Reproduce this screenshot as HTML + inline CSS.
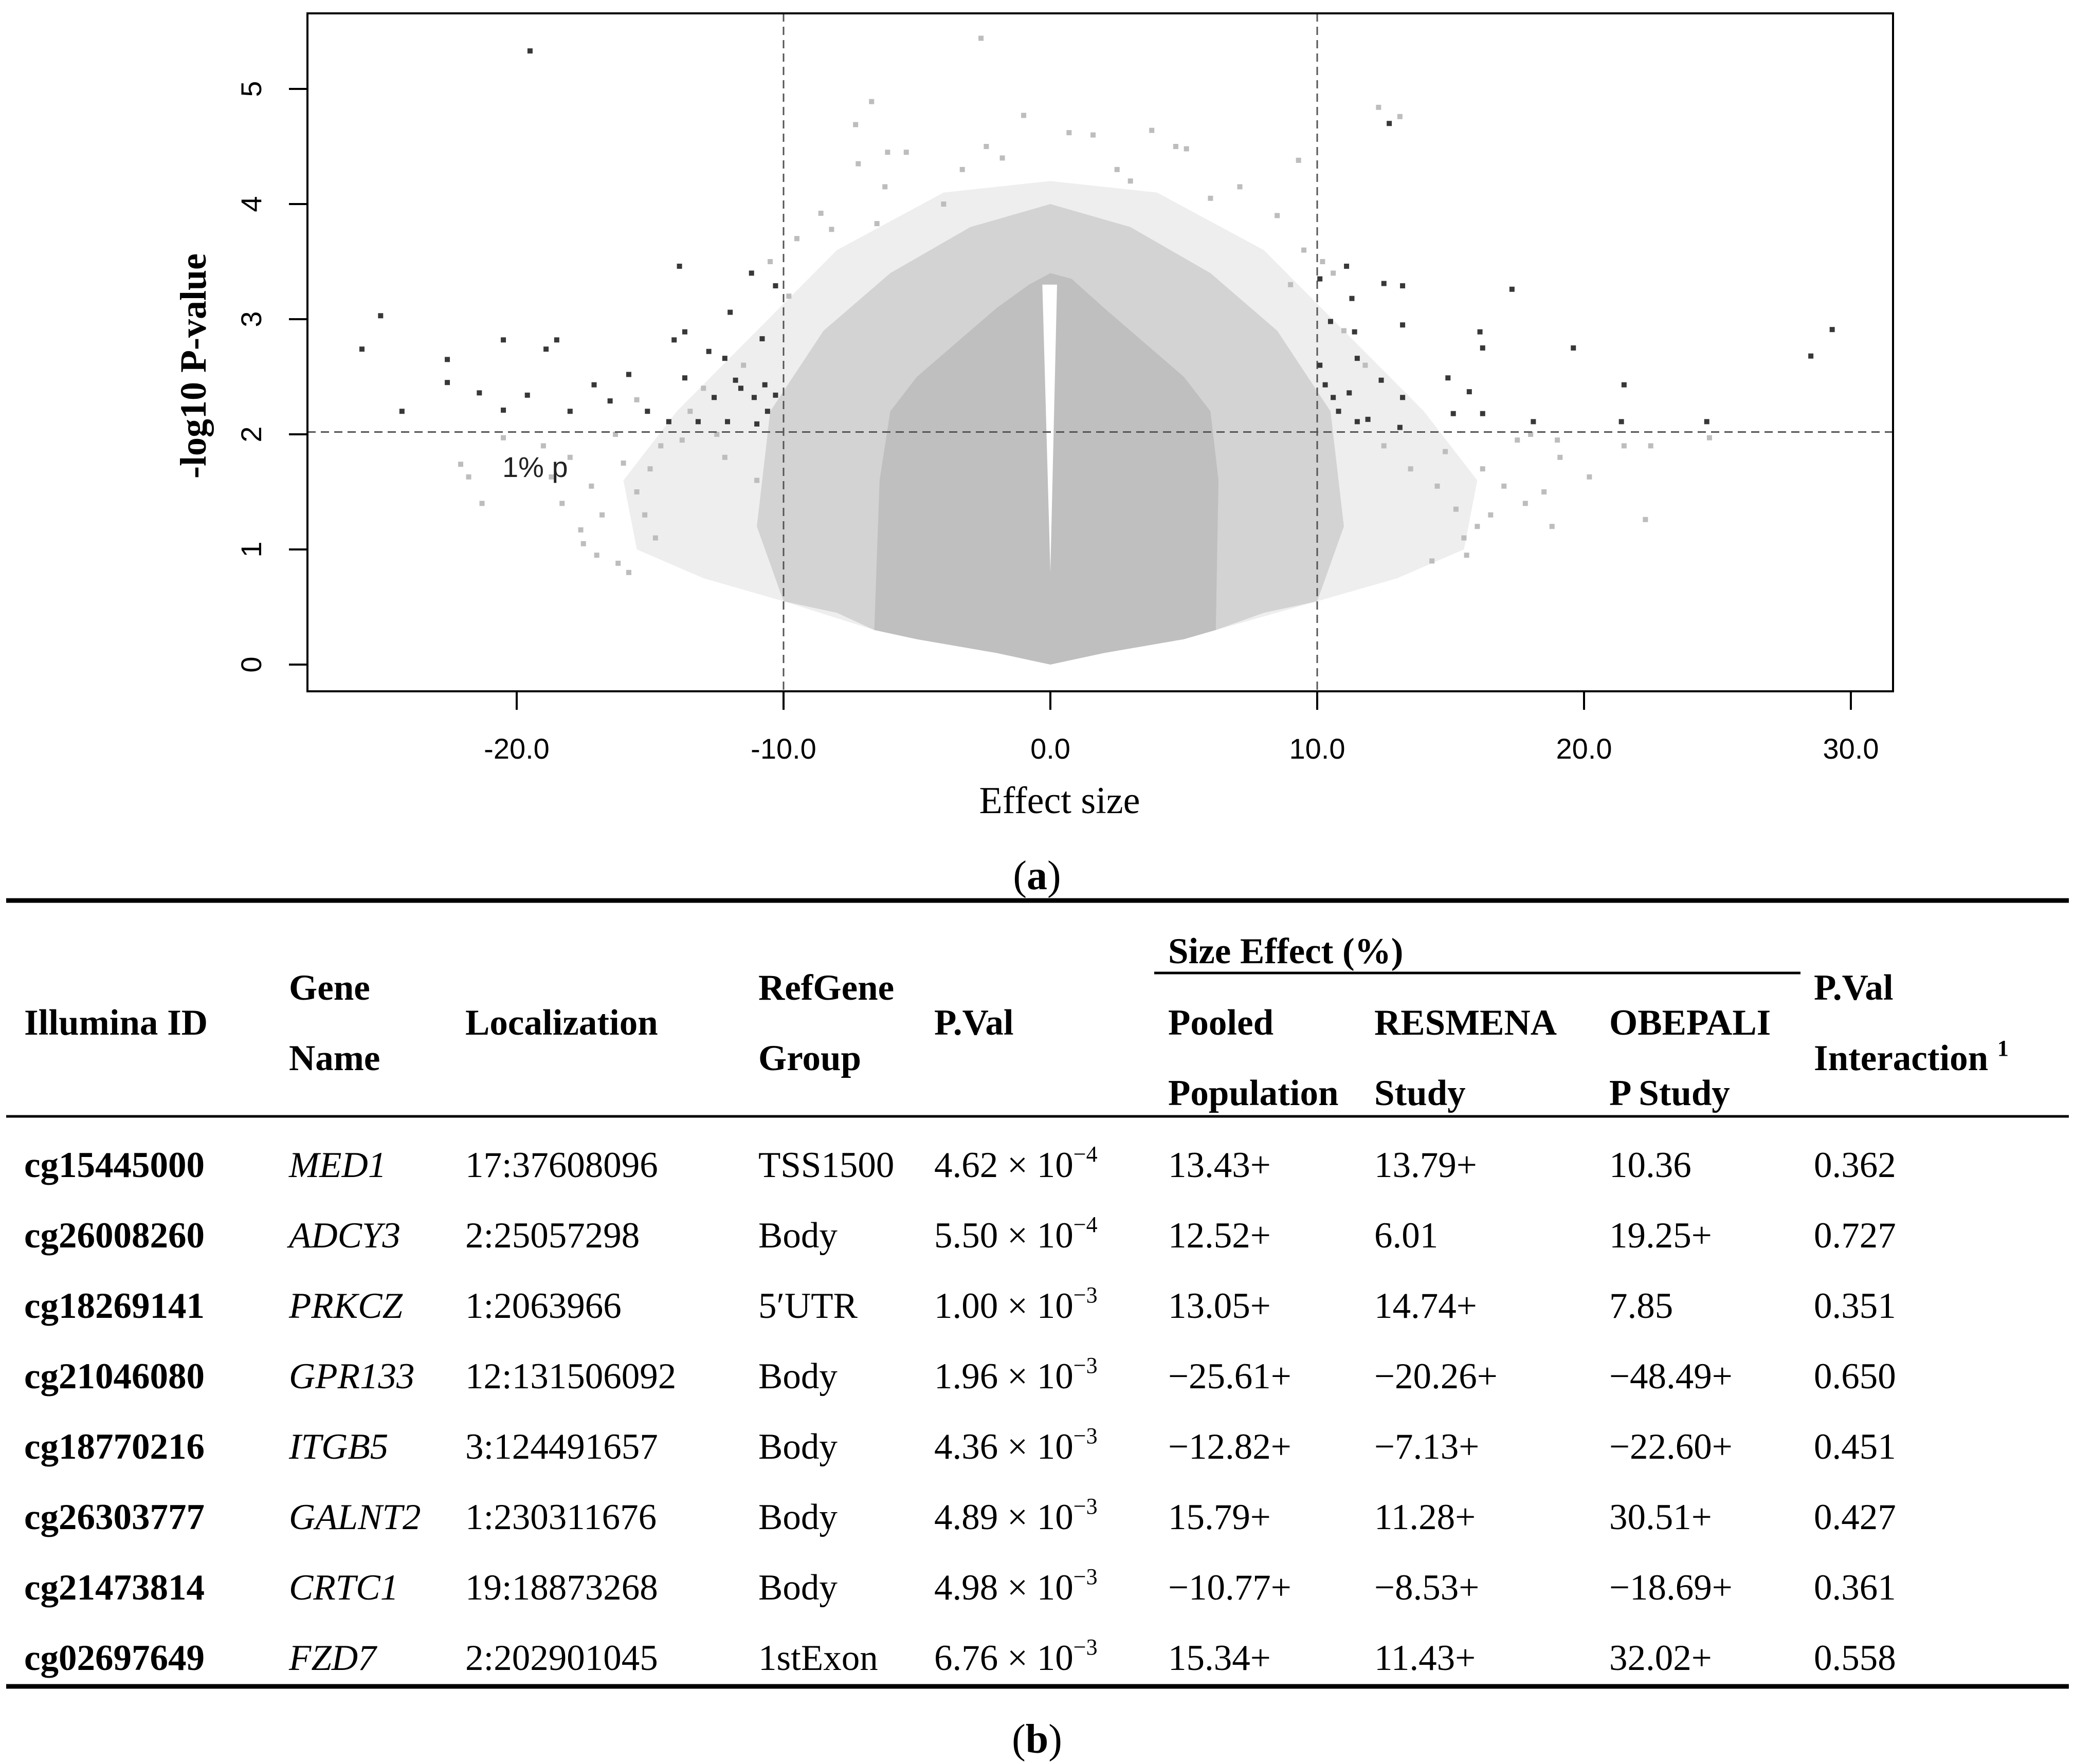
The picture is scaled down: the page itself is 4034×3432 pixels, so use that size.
<!DOCTYPE html>
<html><head><meta charset="utf-8"><style>
html,body{margin:0;padding:0;background:#fff;}
svg{display:block;}
</style></head><body>
<svg id="fig" width="4034" height="3432" viewBox="0 0 4034 3432" xmlns="http://www.w3.org/2000/svg">
<g id="plot"></g>
<g id="table" font-family="'Liberation Serif', serif" font-size="71"></g>
</svg>
<script>
// ---- chart data ----
const xTicks = [-20, -10, 0, 10, 20, 30];
const xTickLabels = ["-20.0", "-10.0", "0.0", "10.0", "20.0", "30.0"];
const yTicks = [0, 1, 2, 3, 4, 5];
const yTickLabels = ["0", "1", "2", "3", "4", "5"];
const threshY = 2.02;
const vLines = [-10, 10];
const coreX = [-6.6,-6.4,-6,-5,-3.5,-2,-0.8,0,0.8,2,3.5,5,6,6.3,6.2,5,2,0,-2,-5];
const coreY = [0.3,1.6,2.2,2.5,2.8,3.1,3.3,3.4,3.35,3.1,2.8,2.5,2.2,1.6,0.3,0.22,0.1,0,0.1,0.22];
const innerX = [-6.6,-8,-10,-11,-10.5,-8.5,-6,-3,0,3,6,8.5,10.5,11,10,8,6.2];
const innerY = [0.3,0.45,0.55,1.2,2.2,2.9,3.4,3.8,4.0,3.8,3.4,2.9,2.2,1.2,0.55,0.45,0.3];
const haloX = [-6.6,-10,-13,-15.5,-16,-14,-11,-8,-4,0,4,8,11,14,16,15.5,13,10,6.2];
const haloY = [0.3,0.55,0.75,1.0,1.6,2.2,2.9,3.6,4.1,4.2,4.1,3.6,2.9,2.2,1.6,1.0,0.75,0.55,0.3];
const gapX = [0,-0.3,0.25];
const gapY = [0.8,3.3,3.3];
const greyX = [-2.6,-6.7,-7.3,-1.0,0.7,1.6,3.8,4.7,5.1,-2.4,-6.1,-5.4,-7.2,-6.2,7.1,9.3,12.3,13.1,-8.6,-8.2,-6.5,2.5,3.0,-3.3,-4.0,8.5,9.5,-9.5,10.2,6.0,-1.8,
 -22.1,-21.8,-21.3,-20.5,-18.7,-18.3,-17.6,-17.5,-16.3,-16.0,-15.5,-15.2,-16.8,-17.0,-16.2,-15.8,-15.0,-14.6,-14.8,-19.0,-18.0,-17.2,-13.8,-13.5,-13.0,-12.5,-15.5,
 20.2,22.3,21.5,22.5,24.7,19.1,18.5,17.8,17.0,16.5,16.0,15.5,15.2,16.2,17.5,18.8,14.8,14.5,15.6,14.3,19.0,18.0,
 -11.5,-12.2,11.8,12.5,13.5,-11.0,-10.5,10.6,11.0,-9.8,9.0];
const greyY = [5.44,4.89,4.69,4.77,4.62,4.6,4.64,4.5,4.48,4.5,4.45,4.45,4.35,4.15,4.15,4.38,4.84,4.76,3.92,3.78,3.83,4.3,4.2,4.3,4.0,3.9,3.6,3.7,3.5,4.05,4.4,
 1.74,1.63,1.40,1.97,1.63,1.40,1.17,1.05,2.0,1.75,1.5,1.3,1.3,0.95,0.88,0.8,1.7,1.9,1.1,1.9,1.8,1.55,1.95,2.2,2.4,2.0,2.3,
 1.63,1.26,1.9,1.9,1.97,1.8,1.5,1.4,1.55,1.3,1.2,1.1,1.35,1.7,1.95,1.2,1.85,1.55,0.95,0.9,1.95,2.0,
 2.6,1.8,2.6,1.9,1.7,1.6,3.5,3.4,2.9,3.2,3.3];
const sigX = [-19.5,-25.8,-25.1,-24.3,-22.6,-22.6,-21.4,-20.5,-20.5,-19.6,-18.9,-18.5,-18.0,-17.1,-16.5,-15.8,-15.1,-14.3,-14.1,-13.9,-13.7,-13.7,-13.2,-12.8,-12.6,-12.2,-12.1,-12.0,-11.8,-11.6,-11.2,-11.1,-11.0,-10.8,-10.7,-10.6,-10.3,-10.3,
 10.1,10.5,10.1,10.3,10.6,10.8,11.1,11.3,11.4,11.5,11.2,11.5,11.9,12.4,12.5,12.7,13.2,13.2,13.2,13.1,14.9,15.1,15.7,16.1,16.2,16.2,17.3,18.1,19.6,21.5,21.4,24.6,28.5,29.3];
const sigY = [5.33,2.74,3.03,2.2,2.65,2.45,2.36,2.82,2.21,2.34,2.74,2.82,2.2,2.43,2.29,2.52,2.2,2.11,2.82,3.46,2.89,2.49,2.11,2.72,2.32,2.66,2.11,3.06,2.47,2.4,3.4,2.32,2.09,2.83,2.43,2.2,3.29,2.34,
 3.35,2.98,2.6,2.43,2.32,2.2,3.46,3.18,2.89,2.66,2.36,2.11,2.13,2.47,3.31,4.7,3.29,2.95,2.32,2.06,2.49,2.18,2.37,2.89,2.75,2.18,3.26,2.11,2.75,2.43,2.11,2.11,2.68,2.91];

// ---- table data ----
const ids = ["cg15445000","cg26008260","cg18269141","cg21046080","cg18770216","cg26303777","cg21473814","cg02697649"];
const genes = ["MED1","ADCY3","PRKCZ","GPR133","ITGB5","GALNT2","CRTC1","FZD7"];
const locs = ["17:37608096","2:25057298","1:2063966","12:131506092","3:124491657","1:230311676","19:18873268","2:202901045"];
const groups = ["TSS1500","Body","5\u2032UTR","Body","Body","Body","Body","1stExon"];
const pMant = ["4.62","5.50","1.00","1.96","4.36","4.89","4.98","6.76"];
const pExp = ["\u22124","\u22124","\u22123","\u22123","\u22123","\u22123","\u22123","\u22123"];
const pooled = ["13.43+","12.52+","13.05+","\u221225.61+","\u221212.82+","15.79+","\u221210.77+","15.34+"];
const resmena = ["13.79+","6.01","14.74+","\u221220.26+","\u22127.13+","11.28+","\u22128.53+","11.43+"];
const obepali = ["10.36","19.25+","7.85","\u221248.49+","\u221222.60+","30.51+","\u221218.69+","32.02+"];
const pInter = ["0.362","0.727","0.351","0.650","0.451","0.427","0.361","0.558"];

const NS = "http://www.w3.org/2000/svg";
const L = 598, R = 3682, T = 26, B = 1345;
const X0 = 2043, XU = 51.9, Y0 = 1293, YU = 224;
const sx = v => X0 + v * XU;
const sy = v => Y0 - v * YU;
function mk(tag, attrs, parent, text) {
  const e = document.createElementNS(NS, tag);
  for (const k in attrs) e.setAttribute(k, attrs[k]);
  if (text !== undefined) e.textContent = text;
  parent.appendChild(e);
  return e;
}
const plot = document.getElementById("plot");
const defs = mk("defs", {}, plot);
const cp = mk("clipPath", {id: "clip"}, defs);
mk("rect", {x: L, y: T, width: R - L, height: B - T}, cp);
const area = mk("g", {"clip-path": "url(#clip)"}, plot);


function poly(xs, ys, fill, name) {
  const pts = xs.map((x, i) => sx(x).toFixed(1) + "," + sy(ys[i]).toFixed(1)).join(" ");
  const p = mk("polygon", {points: pts, fill: fill}, area);
  
  
}
poly(haloX, haloY, "#eeeeee", "outer-point-cloud");
poly(innerX, innerY, "#d3d3d3", "inner-point-cloud");
poly(coreX, coreY, "#bfbfbf", "dense-point-core");
poly(gapX, gapY, "#ffffff", "zero-effect-gap");
greyX.forEach((x, i) => {
  const r = mk("rect", {x: sx(x) - 5, y: sy(greyY[i]) - 5, width: 10, height: 10, fill: "#bdbdbd"}, area);
  
  
});
vLines.forEach(v => {
  const l = mk("line", {x1: sx(v), x2: sx(v), y1: T, y2: B, stroke: "#555", "stroke-width": 3, "stroke-dasharray": "16,10"}, area);
  
  
});
const hl = mk("line", {x1: L, x2: R, y1: sy(threshY), y2: sy(threshY), stroke: "#555", "stroke-width": 3, "stroke-dasharray": "16,10"}, area);


sigX.forEach((x, i) => {
  const r = mk("rect", {x: sx(x) - 5, y: sy(sigY[i]) - 5, width: 10, height: 10, fill: "#383838"}, area);
  
  
});
const lbl = mk("text", {x: 977, y: 928, "font-family": "'Liberation Sans', sans-serif", "font-size": 56, fill: "#222"}, plot, "1% p");


const frame = mk("rect", {x: L, y: T, width: R - L, height: B - T, fill: "none", stroke: "#000", "stroke-width": 4}, plot);


xTicks.forEach((v, i) => {
  const t = mk("line", {x1: sx(v), x2: sx(v), y1: B, y2: B + 36, stroke: "#000", "stroke-width": 4}, plot);
  
  
  const tx = mk("text", {x: sx(v), y: 1476, "text-anchor": "middle", "font-family": "'Liberation Sans', sans-serif", "font-size": 56}, plot, xTickLabels[i]);
  
  
});
yTicks.forEach((v, i) => {
  const t = mk("line", {x1: L - 36, x2: L, y1: sy(v), y2: sy(v), stroke: "#000", "stroke-width": 4}, plot);
  
  
  const tx = mk("text", {x: 0, y: 0, "text-anchor": "middle", "font-family": "'Liberation Sans', sans-serif", "font-size": 56, transform: "translate(508," + sy(v) + ") rotate(-90)"}, plot, yTickLabels[i]);
  
  
});
const xt = mk("text", {x: 2061, y: 1582, "text-anchor": "middle", "font-family": "'Liberation Serif', serif", "font-size": 74}, plot, "Effect size");


const yt = mk("text", {x: 0, y: 0, "text-anchor": "middle", "font-family": "'Liberation Serif', serif", "font-weight": "bold", "font-size": 72, transform: "translate(400,712) rotate(-90)"}, plot, "-log10 P-value");


const pa = mk("text", {x: 2017, y: 1730, "text-anchor": "middle", "font-family": "'Liberation Serif', serif", "font-size": 80}, plot);


mk("tspan", {}, pa, "(");
mk("tspan", {"font-weight": "bold"}, pa, "a");
mk("tspan", {}, pa, ")");

// ---- table ----
const tb = document.getElementById("table");
function rule(x1, x2, y, w, name) {
  const r = mk("rect", {x: x1, y: y - w / 2, width: x2 - x1, height: w, fill: "#000"}, tb);
  
  
}
rule(12, 4024, 1752, 9, "table-top-rule");
rule(12, 4024, 2172, 5, "table-header-rule");
rule(2245, 3502, 1893, 5, "size-effect-rule");
rule(12, 4024, 3281, 9, "table-bottom-rule");
const cols = [47, 562, 905, 1475, 1817, 2272, 2673, 3130, 3528];
function ht(x, y, s, name) {
  const t = mk("text", {x: x, y: y, "font-weight": "bold"}, tb, s);
  
  
  return t;
}
ht(cols[0], 2013, "Illumina ID", "header-illumina-id");
ht(cols[1], 1945, "Gene", "header-gene");
ht(cols[1], 2082, "Name", "header-name");
ht(cols[2], 2013, "Localization", "header-localization");
ht(cols[3], 1945, "RefGene", "header-refgene");
ht(cols[3], 2082, "Group", "header-group");
ht(cols[4], 2013, "P.Val", "header-pval");
ht(cols[5], 1874, "Size Effect (%)", "header-size-effect");
ht(cols[5], 2013, "Pooled", "header-pooled");
ht(cols[5], 2150, "Population", "header-population");
ht(cols[6], 2013, "RESMENA", "header-resmena");
ht(cols[6], 2150, "Study", "header-resmena-study");
ht(cols[7], 2013, "OBEPALI", "header-obepali");
ht(cols[7], 2150, "P Study", "header-obepali-study");
ht(cols[8], 1945, "P.Val", "header-pval-interaction");
const inter = ht(cols[8], 2082, "Interaction ", "header-interaction");
mk("tspan", {"font-size": 44, dy: -28}, inter, "1");
ids.forEach((id, i) => {
  const y = 2290 + i * 137;
  const row = mk("g", {}, tb);
  
  
  const a = mk("text", {x: cols[0], y: y, "font-weight": "bold"}, row, id);
  
  
  const g = mk("text", {x: cols[1], y: y, "font-style": "italic"}, row, genes[i]);
  
  
  const lc = mk("text", {x: cols[2], y: y}, row, locs[i]);
  
  
  const gr = mk("text", {x: cols[3], y: y}, row, groups[i]);
  
  
  const pv = mk("text", {x: cols[4], y: y}, row, pMant[i] + " \u00d7 10");
  
  
  mk("tspan", {"font-size": 44, dy: -30}, pv, pExp[i]);
  [pooled, resmena, obepali, pInter].forEach((arr, k) => {
    const c = mk("text", {x: cols[5 + k], y: y}, row, arr[i]);
    
    
  });
});
const pb = mk("text", {x: 2017, y: 3410, "text-anchor": "middle", "font-size": 80}, tb);


mk("tspan", {}, pb, "(");
mk("tspan", {"font-weight": "bold"}, pb, "b");
mk("tspan", {}, pb, ")");
</script>
</body></html>
